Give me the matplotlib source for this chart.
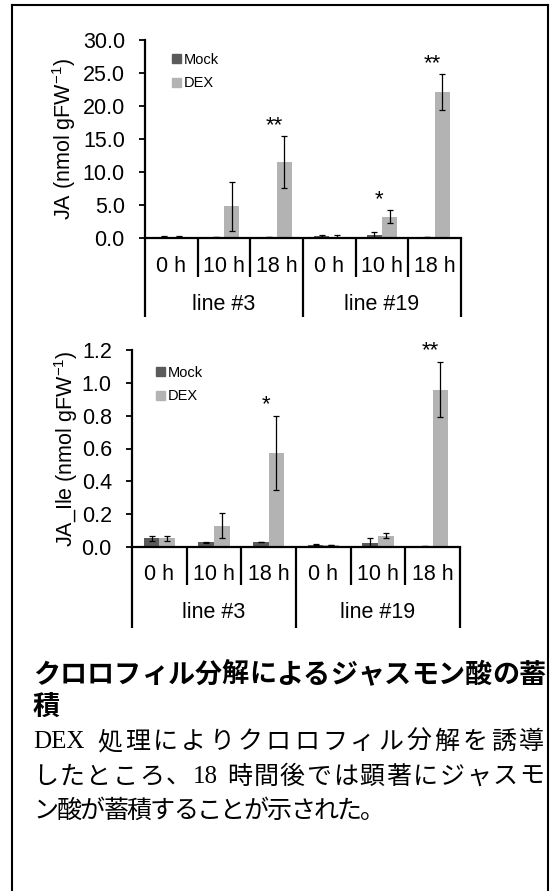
import matplotlib
matplotlib.use('Agg')
import matplotlib.pyplot as plt
import matplotlib.transforms as mtransforms
from matplotlib.patches import Patch

# JA and JA-Ile content after DEX treatment (Mock vs DEX), two transgenic lines
time_labels = ['0 h', '10 h', '18 h', '0 h', '10 h', '18 h']
line_labels = ['line #3', 'line #19']
series_names = ['Mock', 'DEX']

ja_mock = [0.2, 0.1, 0.1, 0.3, 0.45, 0.1]
ja_mock_err = [0.1, 0.0, 0.0, 0.2, 0.5, 0.0]
ja_dex = [0.2, 4.8, 11.5, 0.2, 3.2, 22.1]
ja_dex_err = [0.1, 3.7, 3.9, 0.3, 1.0, 2.7]
ja_sig = ['', '', '**', '', '*', '**']

jaile_mock = [0.054, 0.030, 0.030, 0.014, 0.026, 0.006]
jaile_mock_err = [0.015, 0.003, 0.002, 0.002, 0.026, 0.002]
jaile_dex = [0.054, 0.129, 0.573, 0.012, 0.070, 0.959]
jaile_dex_err = [0.015, 0.076, 0.227, 0.002, 0.018, 0.170]
jaile_sig = ['', '', '*', '', '', '**']

title_lines = ['クロロフィル分解によるジャスモン酸の蓄', '積']
body_lines = [
    ['DEX', ' '] + list('処理によりクロロフィル分解を誘導'),
    list('したところ、') + ['18', ' '] + list('時間後では顕著にジャスモ'),
    list('ン酸が蓄積することが示された。'),
]

W, H, DPI = 555, 891, 100
MOCK_COLOR = '#5b5b5b'
DEX_COLOR = '#b3b3b3'

plt.rcParams['font.family'] = ['Liberation Sans', 'DejaVu Sans']
plt.rcParams['mathtext.fontset'] = 'custom'
plt.rcParams['mathtext.rm'] = 'Liberation Sans'
plt.rcParams['mathtext.it'] = 'Liberation Sans:italic'

fig = plt.figure(figsize=(W / DPI, H / DPI), dpi=DPI)


def fx(px):
    return px / W


def fy(py):
    return 1 - py / H


def draw_panel(left, right, y0, y1, mock, mock_err, dex, dex_err, sig,
               ymax, ystep, ylabel, ylabel_x, cat_y, cat_end, grp_y, grp_end,
               leg_x, leg_y):
    ax = fig.add_axes([fx(left), fy(y0), fx(right) - fx(left), fy(y1) - fy(y0)])
    x = list(range(len(time_labels)))
    bw = 0.285
    ekw = dict(ecolor='black', elinewidth=0.9, capsize=2.5, capthick=0.9)
    ax.bar([i - bw / 2 for i in x], mock, bw, color=MOCK_COLOR, yerr=mock_err, error_kw=ekw)
    ax.bar([i + bw / 2 for i in x], dex, bw, color=DEX_COLOR, yerr=dex_err, error_kw=ekw)

    # significance marks above DEX error bars
    for i, s in enumerate(sig):
        if s:
            ax.annotate(s, (i - 0.05, dex[i] + dex_err[i]), xytext=(0, 0),
                        textcoords='offset points', ha='center', va='bottom',
                        fontsize=16)

    ax.set_xlim(-0.5, len(x) - 0.5)
    ax.set_ylim(0, ymax)
    n = int(round(ymax / ystep))
    ax.set_yticks([k * ystep for k in range(n + 1)])
    ax.set_yticklabels(['%.1f' % (k * ystep) for k in range(n + 1)])
    ax.tick_params(axis='y', direction='out', length=4.5, width=1.3, pad=10, labelsize=15.5)
    ax.set_xticks([])
    for sp in ['top', 'right']:
        ax.spines[sp].set_visible(False)
    for sp in ['left', 'bottom']:
        ax.spines[sp].set_linewidth(1.6)

    fig.text(fx(ylabel_x), (fy(y0) + fy(y1)) / 2, ylabel, rotation=90,
             ha='center', va='center', fontsize=15.5)

    # two-level category axis
    tr = mtransforms.blended_transform_factory(ax.transData, fig.transFigure)
    for b in range(len(x) + 1):
        xb = b - 0.5
        end = grp_end if b % 3 == 0 else cat_end
        ax.plot([xb, xb], [fy(y0), fy(end)], color='black', lw=1.6,
                transform=tr, clip_on=False, solid_capstyle='butt')
    for i, lab in enumerate(time_labels):
        ax.text(i, fy(cat_y), lab, transform=tr, ha='center', va='center', fontsize=15.5)
    for g, lab in enumerate(line_labels):
        ax.text(3 * g + 1, fy(grp_y), lab, transform=tr, ha='center', va='center', fontsize=15.5)

    handles = [Patch(color=MOCK_COLOR), Patch(color=DEX_COLOR)]
    ax.legend(handles, series_names, loc='upper left', bbox_to_anchor=(fx(leg_x), fy(leg_y)),
              bbox_transform=fig.transFigure, frameon=False, fontsize=10.5,
              handlelength=0.6, handleheight=0.6, handletextpad=0.2,
              labelspacing=0.65, borderpad=0, borderaxespad=0)
    return ax


draw_panel(145, 461, 238, 40, ja_mock, ja_mock_err, ja_dex, ja_dex_err, ja_sig,
           30, 5, 'JA (nmol gFW$^{-1}$)', 64, 266, 277, 304, 317, 172, 53)
draw_panel(132, 460, 547, 350, jaile_mock, jaile_mock_err, jaile_dex, jaile_dex_err, jaile_sig,
           1.2, 0.2, 'JA_Ile (nmol gFW$^{-1}$)', 66, 575, 585, 613, 628, 156, 366)

# caption text, spread between the margins
JP = ['Noto Sans CJK JP', 'DejaVu Sans']
SERIF = ['Liberation Serif', 'DejaVu Serif']


def place_line(tokens, y, x0, x1, size, weight='normal', justify=True):
    em = size * DPI / 72
    renderer = fig.canvas.get_renderer()
    adv = []
    fams = []
    for t in tokens:
        if t == ' ':
            adv.append(0.25 * em)
            fams.append(SERIF)
        elif t.isascii():
            tmp = fig.text(0, 0, t, fontsize=size, family=SERIF)
            adv.append(tmp.get_window_extent(renderer).width)
            tmp.remove()
            fams.append(SERIF)
        else:
            adv.append(em)
            fams.append(JP)
    gap = (x1 - x0 - sum(adv)) / (len(tokens) - 1) if justify and len(tokens) > 1 else 0
    pos = x0
    for t, a, f in zip(tokens, adv, fams):
        if t != ' ':
            fig.text(fx(pos + a / 2), fy(y), t, ha='center', va='center',
                     fontsize=size, family=f, weight=weight)
        pos += a + gap


place_line(list(title_lines[0]), 675, 33, 546, 19.5, weight='bold')
place_line(list(title_lines[1]), 708, 33, 546, 19.5, weight='bold', justify=False)
place_line(body_lines[0], 742, 33, 544, 18)
place_line(body_lines[1], 777, 33, 544, 18)
place_line(body_lines[2], 811, 33, 385, 18)

# outer frame
for xs, ys in [([12, 12], [5, H]), ([12, 548], [5, 5]), ([548, 548], [5, H])]:
    fig.add_artist(plt.Line2D([fx(v) for v in xs], [fy(v) for v in ys],
                              color='black', lw=1.5))

fig.savefig('out.png', dpi=DPI)
